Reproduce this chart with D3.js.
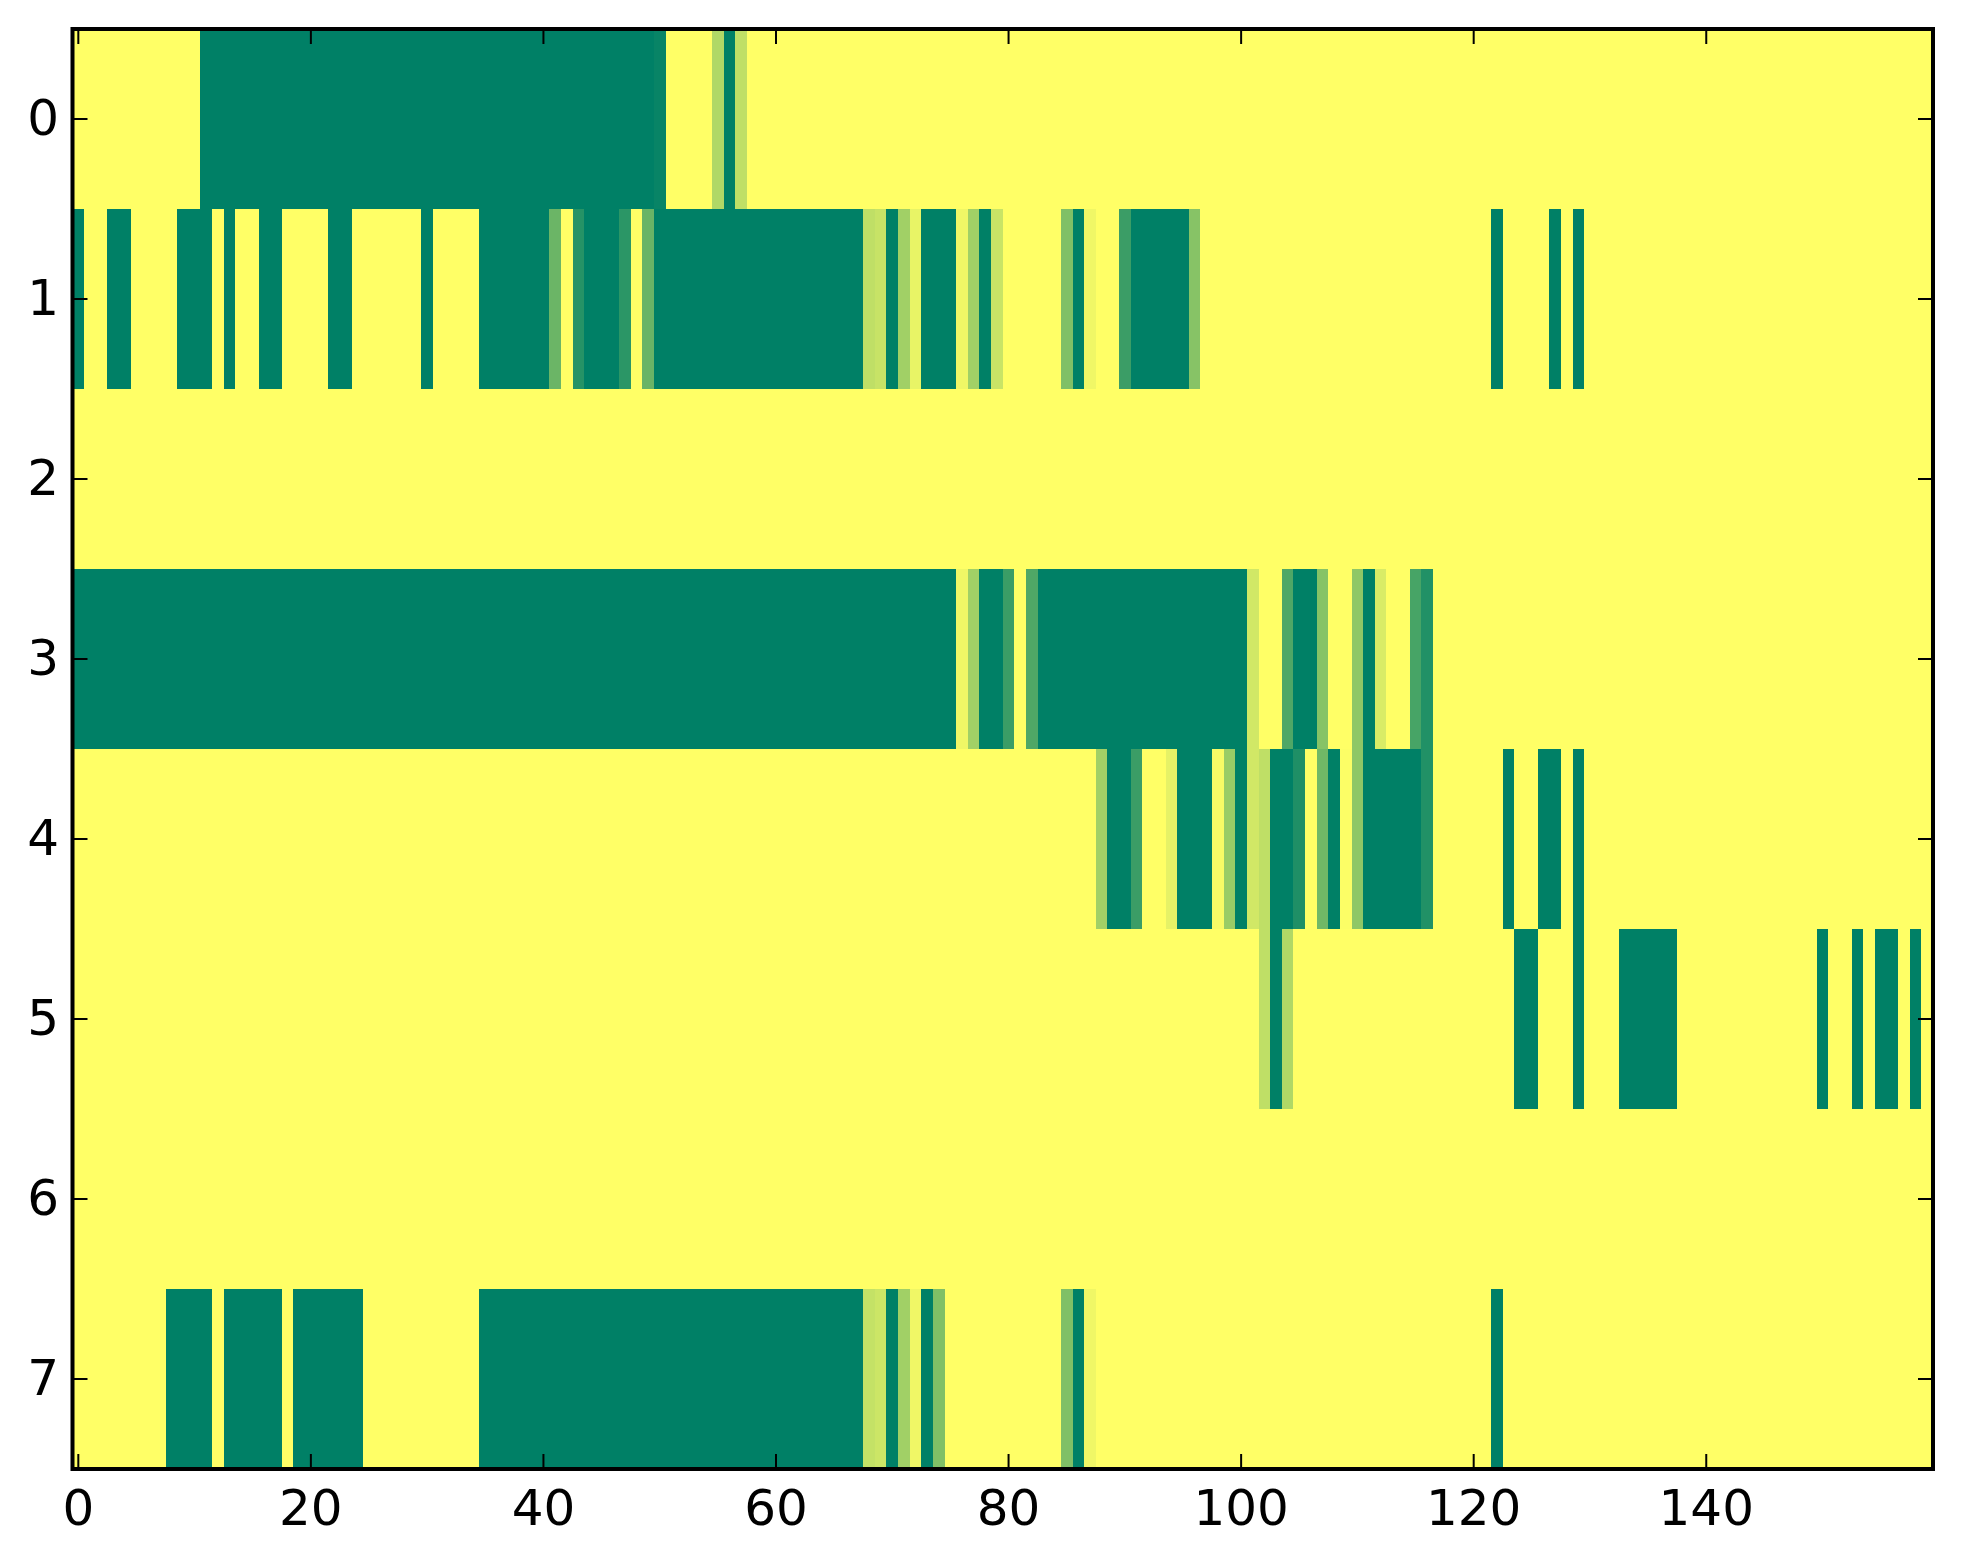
<!DOCTYPE html>
<html>
<head>
<meta charset="utf-8">
<script src="https://cdn.jsdelivr.net/npm/d3@7"></script>
<style>
  html, body { margin: 0; padding: 0; background: #ffffff; }
  svg { display: block; }
  text { font-family: "DejaVu Sans", sans-serif; }
</style>
</head>
<body>
<svg id="chart" width="1963" height="1564"></svg>
<script>
// ---- data: one array of 160 cell values (0..1) per row ----
const rowLabels = [0, 1, 2, 3, 4, 5, 6, 7];
const xTickValues = [0, 20, 40, 60, 80, 100, 120, 140];

const row0 = [
  0,0,0,0,0,0,0,0,0,0, 0,1,1,1,1,1,1,1,1,1,
  1,1,1,1,1,1,1,1,1,1, 1,1,1,1,1,1,1,1,1,1,
  1,1,1,1,1,1,1,1,1,1, 0.97,0,0,0,0,0.31,1,0.25,0,0,
  0,0,0,0,0,0,0,0,0,0, 0,0,0,0,0,0,0,0,0,0,
  0,0,0,0,0,0,0,0,0,0, 0,0,0,0,0,0,0,0,0,0,
  0,0,0,0,0,0,0,0,0,0, 0,0,0,0,0,0,0,0,0,0,
  0,0,0,0,0,0,0,0,0,0, 0,0,0,0,0,0,0,0,0,0,
  0,0,0,0,0,0,0,0,0,0, 0,0,0,0,0,0,0,0,0,0
];
const row1 = [
  1,0,0,1,1,0,0,0,0,1, 1,1,0,1,0,0,1,1,0,0,
  0,0,1,1,0,0,0,0,0,0, 1,0,0,0,0,1,1,1,1,1,
  1,0.58,0,0.85,1,1,1,0.83,0,0.59, 1,1,1,1,1,1,1,1,1,1,
  1,1,1,1,1,1,1,1,0.25,0.22, 1,0.37,0.09,1,1,1,0.06,0.37,1,0.21,
  0,0,0,0,0,0.5,1,0.06,0,0, 0.77,1,1,1,1,1,0.47,0,0,0,
  0,0,0,0,0,0,0,0,0,0, 0,0,0,0,0,0,0,0,0,0,
  0,0,1,0,0,0,0,1,0,1, 0,0,0,0,0,0,0,0,0,0,
  0,0,0,0,0,0,0,0,0,0, 0,0,0,0,0,0,0,0,0,0
];
const row2 = [
  0,0,0,0,0,0,0,0,0,0, 0,0,0,0,0,0,0,0,0,0,
  0,0,0,0,0,0,0,0,0,0, 0,0,0,0,0,0,0,0,0,0,
  0,0,0,0,0,0,0,0,0,0, 0,0,0,0,0,0,0,0,0,0,
  0,0,0,0,0,0,0,0,0,0, 0,0,0,0,0,0,0,0,0,0,
  0,0,0,0,0,0,0,0,0,0, 0,0,0,0,0,0,0,0,0,0,
  0,0,0,0,0,0,0,0,0,0, 0,0,0,0,0,0,0,0,0,0,
  0,0,0,0,0,0,0,0,0,0, 0,0,0,0,0,0,0,0,0,0,
  0,0,0,0,0,0,0,0,0,0, 0,0,0,0,0,0,0,0,0,0
];
const row3 = [
  1,1,1,1,1,1,1,1,1,1, 1,1,1,1,1,1,1,1,1,1,
  1,1,1,1,1,1,1,1,1,1, 1,1,1,1,1,1,1,1,1,1,
  1,1,1,1,1,1,1,1,1,1, 1,1,1,1,1,1,1,1,1,1,
  1,1,1,1,1,1,1,1,1,1, 1,1,1,1,1,1,0.06,0.37,1,1,
  0.77,0,0.69,1,1,1,1,1,1,1, 1,1,1,1,1,1,1,1,1,1,
  1,0.18,0,0,0.69,1,1,0.47,0,0, 0.44,1,0.15,0,0,0.72,0.87,0,0,0,
  0,0,0,0,0,0,0,0,0,0, 0,0,0,0,0,0,0,0,0,0,
  0,0,0,0,0,0,0,0,0,0, 0,0,0,0,0,0,0,0,0,0
];
const row4 = [
  0,0,0,0,0,0,0,0,0,0, 0,0,0,0,0,0,0,0,0,0,
  0,0,0,0,0,0,0,0,0,0, 0,0,0,0,0,0,0,0,0,0,
  0,0,0,0,0,0,0,0,0,0, 0,0,0,0,0,0,0,0,0,0,
  0,0,0,0,0,0,0,0,0,0, 0,0,0,0,0,0,0,0,0,0,
  0,0,0,0,0,0,0,0,0.37,1, 1,0.77,0,0,0.1,1,1,1,0.03,0.4,
  1,0.18,0.25,1,1,0.88,0,0.56,1,0.01, 0.44,1,1,1,1,1,0.87,0,0,0,
  0,0,0,1,0,0,1,1,0,1, 0,0,0,0,0,0,0,0,0,0,
  0,0,0,0,0,0,0,0,0,0, 0,0,0,0,0,0,0,0,0,0
];
const row5 = [
  0,0,0,0,0,0,0,0,0,0, 0,0,0,0,0,0,0,0,0,0,
  0,0,0,0,0,0,0,0,0,0, 0,0,0,0,0,0,0,0,0,0,
  0,0,0,0,0,0,0,0,0,0, 0,0,0,0,0,0,0,0,0,0,
  0,0,0,0,0,0,0,0,0,0, 0,0,0,0,0,0,0,0,0,0,
  0,0,0,0,0,0,0,0,0,0, 0,0,0,0,0,0,0,0,0,0,
  0,0,0.25,1,0.31,0,0,0,0,0, 0,0,0,0,0,0,0,0,0,0,
  0,0,0,0,1,1,0,0,0,1, 0,0,0,1,1,1,1,1,0,0,
  0,0,0,0,0,0,0,0,0,0, 1,0,0,1,0,1,1,0,1,0
];
const row6 = [
  0,0,0,0,0,0,0,0,0,0, 0,0,0,0,0,0,0,0,0,0,
  0,0,0,0,0,0,0,0,0,0, 0,0,0,0,0,0,0,0,0,0,
  0,0,0,0,0,0,0,0,0,0, 0,0,0,0,0,0,0,0,0,0,
  0,0,0,0,0,0,0,0,0,0, 0,0,0,0,0,0,0,0,0,0,
  0,0,0,0,0,0,0,0,0,0, 0,0,0,0,0,0,0,0,0,0,
  0,0,0,0,0,0,0,0,0,0, 0,0,0,0,0,0,0,0,0,0,
  0,0,0,0,0,0,0,0,0,0, 0,0,0,0,0,0,0,0,0,0,
  0,0,0,0,0,0,0,0,0,0, 0,0,0,0,0,0,0,0,0,0
];
const row7 = [
  0,0,0,0,0,0,0,0,1,1, 1,1,0,1,1,1,1,1,0,1,
  1,1,1,1,1,0,0,0,0,0, 0,0,0,0,0,1,1,1,1,1,
  1,1,1,1,1,1,1,1,1,1, 1,1,1,1,1,1,1,1,1,1,
  1,1,1,1,1,1,1,1,0.23,0.2, 1,0.37,0.06,1,0.5,0,0,0,0,0,
  0,0,0,0,0,0.5,1,0.06,0,0, 0,0,0,0,0,0,0,0,0,0,
  0,0,0,0,0,0,0,0,0,0, 0,0,0,0,0,0,0,0,0,0,
  0,0,1,0,0,0,0,0,0,0, 0,0,0,0,0,0,0,0,0,0,
  0,0,0,0,0,0,0,0,0,0, 0,0,0,0,0,0,0,0,0,0
];
const rows = [row0, row1, row2, row3, row4, row5, row6, row7];

// ---- layout ----
const W = 1963, H = 1564;
const plot = { left: 72.5, right: 1933, top: 29, bottom: 1469 };
const nCols = row0.length;

const x = d3.scaleLinear().domain([-0.5, nCols - 0.5]).range([plot.left, plot.right]);
const y = d3.scaleLinear().domain([-0.5, rows.length - 0.5]).range([plot.top, plot.bottom]);
// matplotlib "summer_r": 0 -> yellow, 1 -> green
const color = d3.scaleLinear().domain([0, 1]).range(["#ffff66", "#008066"]).interpolate(d3.interpolateRgb);

const svg = d3.select("#chart");

const cells = [];
rows.forEach((r, ri) => r.forEach((v, ci) => cells.push({ r: ri, c: ci, v })));

svg.append("g")
  .attr("shape-rendering", "crispEdges")
  .selectAll("rect")
  .data(cells)
  .join("rect")
  .attr("x", d => x(d.c - 0.5))
  .attr("y", d => y(d.r - 0.5))
  .attr("width", d => x(d.c + 0.5) - x(d.c - 0.5) + 0.6)
  .attr("height", d => y(d.r + 0.5) - y(d.r - 0.5) + 0.6)
  .attr("fill", d => color(d.v));

// ---- ticks (inward, all four sides) ----
const tickLen = 15;
const ticks = svg.append("g").attr("stroke", "#000").attr("stroke-width", 2);
xTickValues.forEach(t => {
  ticks.append("line").attr("x1", x(t)).attr("x2", x(t)).attr("y1", plot.bottom).attr("y2", plot.bottom - tickLen);
  ticks.append("line").attr("x1", x(t)).attr("x2", x(t)).attr("y1", plot.top).attr("y2", plot.top + tickLen);
});
rowLabels.forEach(t => {
  ticks.append("line").attr("x1", plot.left).attr("x2", plot.left + tickLen).attr("y1", y(t)).attr("y2", y(t));
  ticks.append("line").attr("x1", plot.right).attr("x2", plot.right - tickLen).attr("y1", y(t)).attr("y2", y(t));
});

// ---- spines ----
svg.append("rect")
  .attr("x", plot.left).attr("y", plot.top)
  .attr("width", plot.right - plot.left).attr("height", plot.bottom - plot.top)
  .attr("fill", "none").attr("stroke", "#000").attr("stroke-width", 4);

// ---- tick labels ----
svg.append("g").selectAll("text")
  .data(xTickValues)
  .join("text")
  .attr("x", d => x(d))
  .attr("y", 1525)
  .attr("text-anchor", "middle")
  .attr("font-size", 50)
  .attr("fill", "#000")
  .text(d => d);

svg.append("g").selectAll("text")
  .data(rowLabels)
  .join("text")
  .attr("x", 59)
  .attr("y", d => y(d) + 16)
  .attr("text-anchor", "end")
  .attr("font-size", 50)
  .attr("fill", "#000")
  .text(d => d);
</script>
</body>
</html>
